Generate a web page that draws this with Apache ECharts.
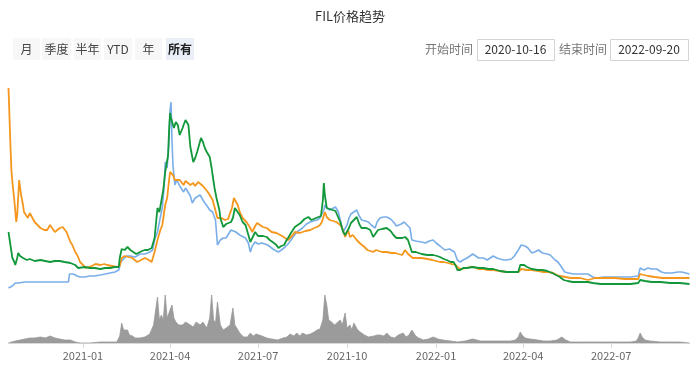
<!DOCTYPE html>
<html><head><meta charset="utf-8">
<script src="https://cdn.jsdelivr.net/npm/echarts@6/dist/echarts.min.js"></script>
<style>html,body{margin:0;padding:0;background:#fff}#c{width:700px;height:369px}</style>
</head><body><div id="c"></div>
<script>
const startDate = '2020-10-16';
const endDate = '2022-09-20';
const titleText = 'FIL价格趋势';
const rangeButtons = ['月', '季度', '半年', 'YTD', '年', '所有'];
const activeButton = '所有';
const startLabel = '开始时间';
const endLabel = '结束时间';
const tickLabels = ['2021-01', '2021-04', '2021-07', '2021-10', '2022-01', '2022-04', '2022-07'];

// days since startDate, and relative index values (hidden axis)
const blueDay = [0,2,4,7,10,12,17,22,33,43,53,62,63,64,67,71,74,79,84,89,95,100,105,110,114,116,118,122,126,131,136,141,146,149,151,154,157,159,161,162,164,166,167,168,169,170,172,174,175,177,181,183,185,188,190,193,195,198,201,203,206,208,211,214,215,216,219,222,225,227,230,232,235,239,245,248,250,252,255,258,262,265,268,272,275,279,282,286,289,291,295,298,301,304,308,312,315,319,322,324,326,327,329,332,334,338,341,343,346,348,350,352,354,357,360,362,365,369,372,375,379,381,384,388,391,395,398,401,403,406,409,412,415,417,421,423,427,431,435,439,442,446,451,456,458,461,464,467,470,474,477,480,483,486,488,491,495,498,501,505,508,512,515,520,523,527,530,534,537,541,544,548,552,557,560,565,568,571,575,579,584,589,594,599,604,608,615,622,632,643,651,653,657,661,665,670,675,679,686,692,696,704];
const blueVal = [12,12,14,17,17,18,18,18,18,18,18,18,26,27,26,24,23,23,24,24,25,26,27,28,30,38,40,44,44,43,46,46,48,50,60,68,83,92,115,138,132,160,190,198,160,135,115,120,118,114,108,112,113,104,97,102,103,105,100,97,93,90,88,80,78,55,60,62,62,62,70,72,68,65,62,57,48,54,58,56,57,56,55,52,50,48,50,53,56,58,64,68,70,72,76,78,79,80,82,83,90,95,92,90,92,93,88,80,68,70,75,82,86,88,90,85,80,79,78,75,72,78,82,83,83,81,78,74,72,76,78,75,72,60,59,58,58,57,59,60,57,54,50,51,52,48,40,38,40,42,44,46,44,42,44,42,40,42,44,42,41,40,40,41,44,50,55,54,52,47,48,50,47,46,45,40,38,34,28,27,26,26,26,26,23,22,23,23,23,23,24,32,30,32,31,31,28,27,27,28,28,26];

const greenDay = [0,2,4,6,7,9,10,12,15,19,22,27,33,38,43,48,53,58,64,69,72,74,79,84,89,95,100,105,110,114,115,117,120,123,126,129,132,134,138,141,144,148,151,154,156,158,160,162,164,165,166,167,168,169,171,173,175,177,180,181,183,184,186,188,191,193,195,197,199,201,203,205,208,210,211,213,215,218,219,222,225,227,230,232,234,236,239,242,245,248,250,252,255,258,260,263,267,270,273,277,279,282,285,287,289,292,296,299,302,306,310,313,315,318,320,323,324,325,326,327,329,332,334,338,339,343,346,348,350,352,354,357,360,363,365,370,374,377,379,382,386,391,395,398,401,403,407,410,413,415,417,421,423,427,433,436,439,443,446,450,453,457,460,462,464,467,470,474,480,486,491,496,501,508,515,522,527,529,533,536,541,547,552,557,562,566,570,574,578,583,591,599,604,612,622,632,643,651,653,658,665,674,684,694,704];
const greenVal = [68,55,42,38,35,42,47,44,42,40,41,39,40,39,38,39,39,38,37,35,32,32,33,32,32,31,32,32,33,33,42,51,50,53,50,48,46,45,49,50,50,52,62,92,88,90,110,128,130,145,170,187,182,180,172,178,175,165,172,175,180,182,175,153,138,142,148,155,162,158,152,148,143,132,125,112,102,90,82,73,76,75,78,82,92,90,85,78,75,65,58,62,68,64,65,64,63,60,58,55,52,54,55,59,62,67,73,75,77,81,83,80,80,82,82,84,85,100,117,105,92,91,90,89,88,78,68,65,63,72,77,80,83,75,72,72,70,63,65,70,71,72,69,65,62,60,62,63,60,60,48,48,47,46,45,45,45,44,43,41,40,38,38,35,30,30,32,32,33,32,32,31,31,29,28,28,28,35,35,33,31,30,30,29,27,25,23,20,19,18,18,18,17,16,16,16,16,17,20,19,18,18,17,17,16];

const orangeDay = [0,2,3,4,6,8,9,11,13,15,16,18,20,22,24,27,33,37,40,43,45,48,53,56,58,60,64,66,69,71,74,77,80,82,86,90,95,99,102,107,112,115,117,120,124,128,133,137,141,145,148,151,154,157,159,162,164,166,167,170,172,174,177,181,183,185,188,191,193,196,198,201,203,206,208,211,213,216,220,224,227,229,231,233,235,237,239,242,246,248,250,252,255,257,260,263,267,272,277,281,286,289,291,294,296,301,302,307,312,316,319,322,324,327,329,332,336,339,343,345,348,351,353,356,358,360,363,368,371,374,377,380,382,386,391,396,400,403,407,410,413,415,418,423,427,433,438,442,446,450,454,458,462,465,469,473,477,480,486,491,496,501,508,515,521,527,530,532,536,541,548,553,558,563,567,570,576,581,586,591,599,603,606,617,627,637,645,651,653,657,661,668,676,684,694,704];
const orangeVal = [212,155,130,118,100,78,85,120,105,95,88,90,82,87,85,78,72,70,70,75,72,68,72,73,72,68,58,55,48,45,38,35,32,32,34,36,35,36,35,34,33,34,42,44,43,42,38,40,42,40,38,48,60,70,75,95,102,120,128,125,120,118,120,115,119,118,115,117,114,118,117,114,112,108,105,100,93,82,82,80,81,83,92,102,100,95,88,82,78,75,72,68,74,77,75,73,72,68,67,65,62,60,60,65,68,67,68,69,70,72,73,75,78,88,83,80,79,78,75,72,63,70,63,65,63,60,57,53,50,49,48,50,50,48,48,47,47,46,45,50,46,45,42,42,42,41,40,39,38,38,37,36,35,32,31,32,33,33,31,31,30,30,29,28,28,28,31,32,30,30,29,28,28,27,25,24,23,22,22,22,20,21,22,22,22,21,21,21,26,25,24,23,22,22,22,22];

const volDay = [0,2,7,12,17,22,24,27,33,38,43,48,53,58,64,69,74,84,95,105,112,115,117,119,123,125,128,131,136,141,146,148,150,154,156,158,160,162,164,167,169,171,173,176,180,183,185,188,191,194,198,201,205,208,210,212,214,216,219,222,225,229,232,234,236,239,243,247,250,253,256,258,262,267,272,278,284,288,291,295,298,301,304,308,312,316,319,322,325,327,329,331,334,337,339,343,345,348,350,353,355,357,361,365,368,372,374,378,381,384,388,391,395,399,403,408,411,414,417,421,424,429,434,439,444,449,457,464,472,480,488,498,508,519,524,527,529,531,534,539,547,553,560,567,572,576,581,591,601,612,622,632,643,649,651,653,655,658,663,674,684,694,704];
const volVal = [0,1,2,3,4,5,7,5,6,5,7,5,4,3,3,1,0,0,1,1,1,7,20,13,13,8,7,5,5,6,9,11,18,46,23,28,23,48,25,33,38,25,21,18,18,21,23,18,16,21,18,21,15,25,48,23,20,41,18,13,15,18,35,18,15,10,6,6,10,7,9,11,7,5,4,3,5,6,9,7,10,7,10,8,9,11,13,14,23,48,38,23,21,18,18,23,18,30,15,18,13,20,13,10,8,6,5,7,8,8,7,10,6,5,8,10,6,8,13,7,5,3,4,6,4,3,2,1,2,4,2,2,2,2,3,6,11,8,5,4,3,2,2,3,6,3,1,1,1,1,1,1,1,2,5,10,6,3,2,1,1,1,0];

const DAY = 86400000;
function ts(s) { return Date.UTC(+s.slice(0, 4), +s.slice(5, 7) - 1, +s.slice(8, 10)); }
const t0 = ts(startDate);
function dayOf(s) { return Math.round((ts(s) - t0) / DAY); }
function pairs(days, vals) { return days.map((d, i) => [d, vals[i]]); }
const tickDays = tickLabels.map(s => dayOf(s + '-01'));
const lastDay = dayOf(endDate);

const chart = echarts.init(document.getElementById('c'), null, {renderer: 'canvas'});

const FONT = '"Noto Sans CJK SC", sans-serif';
const graphics = [];
const btnBoxes = [[13,27],[42,29],[74,27],[104,28],[135,27],[166,28]];
rangeButtons.forEach((b, i) => {
  const active = b === activeButton;
  graphics.push({type: 'rect', left: btnBoxes[i][0], top: 38, shape: {width: btnBoxes[i][1], height: 22},
    style: {fill: active ? '#eaeef6' : '#f7f7f7'}});
  graphics.push({type: 'text', x: btnBoxes[i][0] + btnBoxes[i][1] / 2, y: 49,
    style: {text: b, fill: active ? '#222' : '#444', font: (active ? 'bold ' : '') + '12px ' + FONT, align: 'center', verticalAlign: 'middle'}});
});
graphics.push({type: 'text', x: 449, y: 49, style: {text: startLabel, fill: '#777', font: '12px ' + FONT, align: 'center', verticalAlign: 'middle'}});
graphics.push({type: 'rect', left: 477, top: 39, shape: {width: 77, height: 21}, style: {fill: '#fff', stroke: '#d4d4d4', lineWidth: 1}});
graphics.push({type: 'text', x: 515.5, y: 49.5, style: {text: startDate, fill: '#333', font: '12px ' + FONT, align: 'center', verticalAlign: 'middle'}});
graphics.push({type: 'text', x: 583, y: 49, style: {text: endLabel, fill: '#777', font: '12px ' + FONT, align: 'center', verticalAlign: 'middle'}});
graphics.push({type: 'rect', left: 610, top: 39, shape: {width: 78, height: 21}, style: {fill: '#fff', stroke: '#d4d4d4', lineWidth: 1}});
graphics.push({type: 'text', x: 649, y: 49.5, style: {text: endDate, fill: '#333', font: '12px ' + FONT, align: 'center', verticalAlign: 'middle'}});

chart.setOption({
  animation: false,
  title: {text: titleText, left: 'center', top: 5, textStyle: {fontSize: 13, fontWeight: 'normal', color: '#333', fontFamily: FONT}},
  graphic: graphics,
  grid: [
    {left: 8.5, width: 681, top: 85, height: 215},
    {left: 8.5, width: 681, top: 293, height: 50}
  ],
  xAxis: [
    {type: 'value', gridIndex: 0, min: 0, max: lastDay, show: false, splitLine: {show: false}},
    {type: 'value', gridIndex: 1, min: 0, max: lastDay,
     axisLine: {show: true, onZero: false, lineStyle: {color: '#d9d9d9'}},
     axisTick: {show: true, length: 5, customValues: tickDays, lineStyle: {color: '#d9d9d9'}},
     splitLine: {show: false},
     axisLabel: {customValues: tickDays, formatter: function (v) { const i = tickDays.indexOf(v); return i >= 0 ? tickLabels[i] : ''; },
       color: '#666', fontSize: 11, margin: 7, fontFamily: FONT}}
  ],
  yAxis: [
    {type: 'value', gridIndex: 0, min: 0, max: 215, show: false, splitLine: {show: false}},
    {type: 'value', gridIndex: 1, min: 0, max: 50, show: false, splitLine: {show: false}}
  ],
  series: [
    {type: 'line', xAxisIndex: 0, yAxisIndex: 0, data: pairs(blueDay, blueVal), showSymbol: false, symbol: 'none',
     lineStyle: {color: '#7aaee8', width: 1.6}, itemStyle: {color: '#7aaee8'}},
    {type: 'line', xAxisIndex: 0, yAxisIndex: 0, data: pairs(orangeDay, orangeVal), showSymbol: false, symbol: 'none',
     lineStyle: {color: '#f5961d', width: 1.8}, itemStyle: {color: '#f5961d'}},
    {type: 'line', xAxisIndex: 0, yAxisIndex: 0, data: pairs(greenDay, greenVal), showSymbol: false, symbol: 'none',
     lineStyle: {color: '#12983a', width: 1.8}, itemStyle: {color: '#12983a'}},
    {type: 'line', xAxisIndex: 1, yAxisIndex: 1, data: pairs(volDay, volVal), showSymbol: false, symbol: 'none',
     lineStyle: {color: '#999', width: 0.8}, areaStyle: {color: '#9b9b9b', opacity: 1}, itemStyle: {color: '#999'}}
  ]
});
</script></body></html>
